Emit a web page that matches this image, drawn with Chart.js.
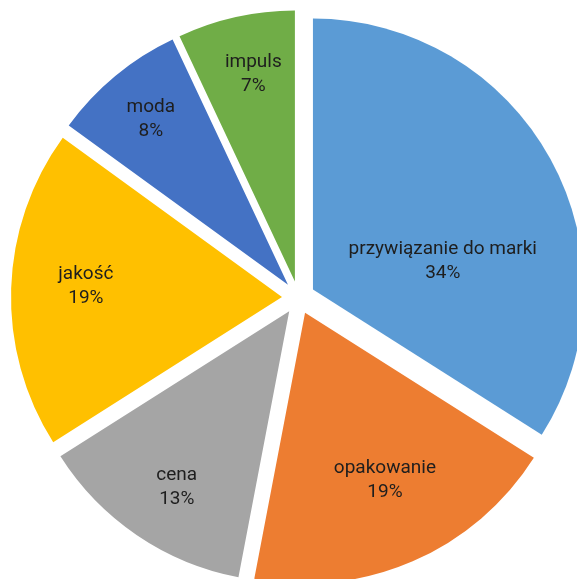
<!DOCTYPE html>
<html>
<head>
<meta charset="utf-8">
<script src="https://cdn.jsdelivr.net/npm/chart.js@4.4.0/dist/chart.umd.min.js"></script>
<style>
    html, body { margin: 0; padding: 0; background: #fff; }
    #wrap { width: 577px; height: 579px; }
</style>
</head>
<body>
<div id="wrap"><canvas id="pie" width="577" height="579"></canvas></div>
<script>
const categories = ['przywiązanie do marki', 'opakowanie', 'cena', 'jakość', 'moda', 'impuls'];
const shares = [34, 19, 13, 19, 8, 7];
const sliceColors = ['#5B9BD5', '#ED7D31', '#A5A5A5', '#FFC000', '#4472C4', '#70AD47'];

// where each label sits inside its slice (fraction of radius / fraction of slice angle)
const labelRadius = [0.49, 0.684, 0.77, 0.725, 0.794, 0.78];
const labelAngle = [0.636, 0.469, 0.466, 0.52, 0.5, 0.55];
const explode = 16.5;

// push every slice out along its bisector, like an exploded Excel pie
const explodePlugin = {
    id: 'explode',
    afterDatasetsUpdate(chart) {
        chart.getDatasetMeta(0).data.forEach(arc => {
            const mid = (arc.startAngle + arc.endAngle) / 2;
            arc.x += Math.cos(mid) * explode;
            arc.y += Math.sin(mid) * explode;
        });
    }
};

const labelPlugin = {
    id: 'sliceLabels',
    afterDatasetsDraw(chart) {
        const ctx = chart.ctx;
        const total = shares.reduce((a, b) => a + b, 0);
        ctx.save();
        ctx.font = '19px Roboto';
        ctx.fillStyle = '#1e1e1e';
        ctx.textAlign = 'center';
        ctx.textBaseline = 'middle';
        chart.getDatasetMeta(0).data.forEach((arc, i) => {
            const a = arc.startAngle + (arc.endAngle - arc.startAngle) * labelAngle[i];
            const r = arc.outerRadius * labelRadius[i];
            const x = arc.x + Math.cos(a) * r;
            const y = arc.y + Math.sin(a) * r;
            ctx.fillText(categories[i], x, y - 12);
            ctx.fillText(Math.round(shares[i] / total * 100) + '%', x, y + 12);
        });
        ctx.restore();
    }
};

new Chart(document.getElementById('pie'), {
    type: 'pie',
    data: {
        labels: categories,
        datasets: [{
            data: shares,
            backgroundColor: sliceColors,
            borderWidth: 0,
            radius: 271,
            clip: false
        }]
    },
    options: {
        responsive: false,
        animation: false,
        events: [],
        layout: { padding: { left: 20, right: 0, top: 16, bottom: 0 } },
        plugins: {
            legend: { display: false },
            tooltip: { enabled: false }
        }
    },
    plugins: [explodePlugin, labelPlugin]
});
</script>
</body>
</html>
